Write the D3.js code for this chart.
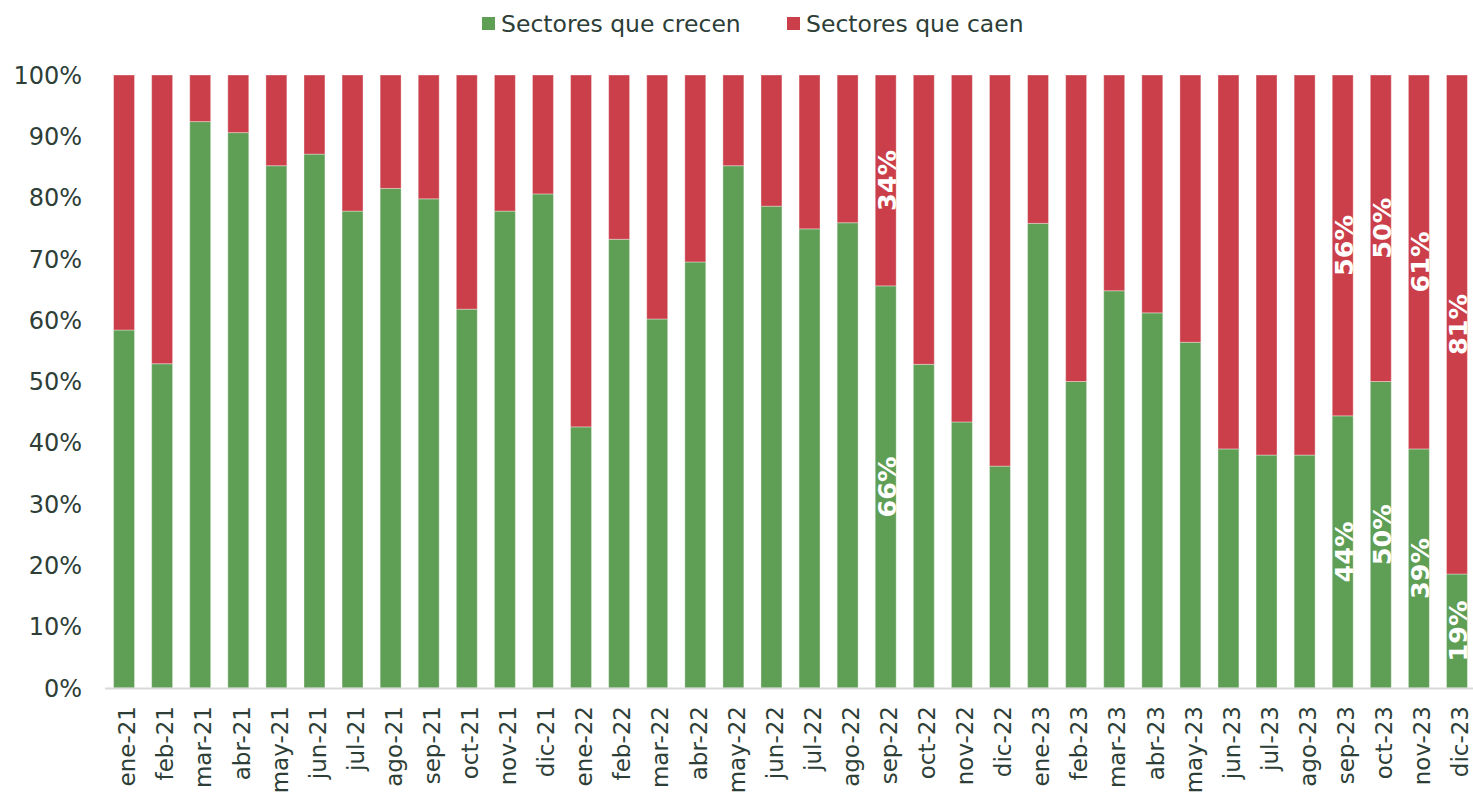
<!DOCTYPE html>
<html>
<head>
<meta charset="utf-8">
<script src="https://cdn.jsdelivr.net/npm/d3@7"></script>
<style>
  body { margin: 0; background: #fff; }
  svg { display: block; font-family: Verdana, "DejaVu Sans", sans-serif; }
</style>
</head>
<body>
<svg id="chart" width="1473" height="796"></svg>
<script>
const months = ['ene-21','feb-21','mar-21','abr-21','may-21','jun-21','jul-21','ago-21','sep-21','oct-21','nov-21','dic-21',
  'ene-22','feb-22','mar-22','abr-22','may-22','jun-22','jul-22','ago-22','sep-22','oct-22','nov-22','dic-22',
  'ene-23','feb-23','mar-23','abr-23','may-23','jun-23','jul-23','ago-23','sep-23','oct-23','nov-23','dic-23'];
// share of sectors growing (%), the falling share is the remainder
const growing = [58.4, 52.9, 92.4, 90.6, 85.2, 87.1, 77.8, 81.5, 79.8, 61.8, 77.8, 80.6,
  42.6, 73.2, 60.2, 69.5, 85.2, 78.6, 74.9, 75.9, 65.6, 52.8, 43.4, 36.2,
  75.8, 50.0, 64.8, 61.2, 56.4, 39.0, 38.0, 38.0, 44.4, 50.0, 39.0, 18.6];
const labelled = ['sep-22', 'sep-23', 'oct-23', 'nov-23', 'dic-23'];
const yTicks = [0, 10, 20, 30, 40, 50, 60, 70, 80, 90, 100];
const seriesNames = ['Sectores que crecen', 'Sectores que caen'];
const colors = ['#5f9e55', '#cb3f4a'];

const svg = d3.select('#chart');
const x = d3.scaleBand().domain(months).range([105, 1476]).paddingInner(0.45).paddingOuter(0.225);
const y = d3.scaleLinear().domain([0, 100]).range([688, 75]);
const textColor = '#2d3e37';

const rows = months.map((m, i) => ({ month: m, up: growing[i], down: 100 - growing[i] }));

// y axis labels
svg.append('g').selectAll('text').data(yTicks).join('text')
  .attr('x', 82).attr('y', d => y(d)).attr('dy', '0.36em')
  .attr('text-anchor', 'end').attr('font-size', 24).attr('fill', textColor)
  .text(d => d + '%');

// bars
const bars = svg.append('g');
bars.selectAll('rect.up').data(rows).join('rect').attr('class', 'up')
  .attr('x', d => x(d.month)).attr('width', x.bandwidth())
  .attr('y', d => y(d.up)).attr('height', d => y(0) - y(d.up))
  .attr('fill', colors[0]).attr('stroke', 'rgba(255,255,255,0.35)').attr('stroke-width', 1);
bars.selectAll('rect.down').data(rows).join('rect').attr('class', 'down')
  .attr('x', d => x(d.month)).attr('width', x.bandwidth())
  .attr('y', y(100)).attr('height', d => y(d.up) - y(100))
  .attr('fill', colors[1]).attr('stroke', 'rgba(255,255,255,0.35)').attr('stroke-width', 1);

// baseline
svg.append('line').attr('x1', 105).attr('x2', 1473).attr('y1', y(0) + 0.5).attr('y2', y(0) + 0.5)
  .attr('stroke', '#d9d9d9').attr('stroke-width', 2);

// value labels
const lab = rows.filter(d => labelled.includes(d.month));
const labG = svg.append('g').attr('fill', '#fff').attr('font-weight', 'bold').attr('font-size', 25.5);
lab.forEach(d => {
  const cx = x(d.month) + x.bandwidth() / 2 + 1;
  const segs = [[d.up, (y(0) + y(d.up)) / 2], [d.down, (y(d.up) + y(100)) / 2]];
  segs.forEach(([v, cy]) => {
    labG.append('text').attr('transform', `translate(${cx},${cy}) rotate(-90)`)
      .attr('text-anchor', 'middle').attr('dy', '0.36em').text(Math.round(v) + '%');
  });
});

// x axis labels
svg.append('g').selectAll('text').data(months).join('text')
  .attr('transform', d => `translate(${x(d) + x.bandwidth() / 2 + 3},706) rotate(-90)`)
  .attr('text-anchor', 'end').attr('dy', '0.36em').attr('font-size', 23).attr('fill', textColor)
  .text(d => d);

// legend
const legendX = [482, 787];
seriesNames.forEach((name, i) => {
  svg.append('rect').attr('x', legendX[i]).attr('y', 17).attr('width', 13).attr('height', 13).attr('fill', colors[i]);
  svg.append('text').attr('x', legendX[i] + 19).attr('y', 24).attr('dy', '0.36em')
    .attr('font-size', 23.5).attr('fill', textColor).text(name);
});
</script>
</body>
</html>
